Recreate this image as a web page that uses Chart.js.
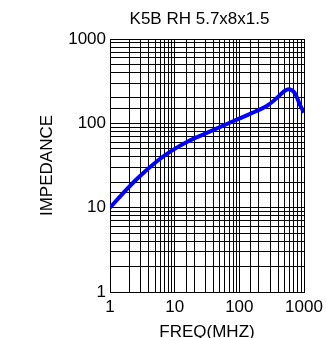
<!DOCTYPE html>
<html>
<head>
<meta charset="utf-8">
<script src="https://cdn.jsdelivr.net/npm/chart.js@4/dist/chart.umd.min.js"></script>
<style>
  html, body { margin: 0; padding: 0; background: #fff; }
  #c { display: block; }
</style>
</head>
<body>
<canvas id="c" width="326" height="338"></canvas>
<script>
const chartTitle = 'K5B RH 5.7x8x1.5';
const xAxisTitle = 'FREQ(MHZ)';
const yAxisTitle = 'IMPEDANCE';
const freqMHz = [1, 1.68, 2.7, 5.5, 8.9, 16, 29, 85, 174, 280, 400, 480, 571, 725, 867, 1000];
const impedance = [10, 15.5, 22.5, 36.3, 47.2, 61, 75, 108, 137, 165, 207, 236, 253, 227, 165, 134];
const tickLabels = [1, 10, 100, 1000];

const FONT = '"Liberation Sans", Arial, sans-serif';
const points = freqMHz.map((f, i) => ({ x: f, y: impedance[i] }));
const labelCb = (v) => tickLabels.includes(Number(v)) ? String(v) : '';

// shift the chart title box so it is centred where the reference has it
const titleShift = {
  id: 'titleShift',
  afterLayout(chart) {
    const t = chart.titleBlock;
    if (t) { t.left = 95; t.right = 304; }
  }
};

new Chart(document.getElementById('c'), {
  type: 'line',
  data: {
    datasets: [{
      data: points,
      borderColor: '#0000ff',
      borderWidth: 4,
      pointRadius: 0,
      fill: false,
      cubicInterpolationMode: 'monotone'
    }]
  },
  plugins: [titleShift],
  options: {
    responsive: false,
    animation: false,
    devicePixelRatio: 1,
    layout: { padding: { left: 0, right: 22, top: 0, bottom: 0 } },
    plugins: {
      legend: { display: false },
      tooltip: { enabled: false },
      title: {
        display: true,
        text: chartTitle,
        color: '#000',
        font: { family: FONT, size: 17, weight: 'normal' },
        padding: { top: 9.5, bottom: 9.1 }
      }
    },
    scales: {
      x: {
        type: 'logarithmic',
        min: 1, max: 1000,
        border: { display: true, color: '#000', width: 1 },
        grid: { color: '#000', lineWidth: 1, drawTicks: false },
        ticks: { autoSkip: false, maxRotation: 0, padding: 5.5, color: '#000',
                 font: { family: FONT, size: 17 }, callback: labelCb },
        title: { display: true, text: xAxisTitle, color: '#000',
                 font: { family: FONT, size: 17 }, padding: { top: 0, bottom: -4.2 } },
        afterFit: (s) => { s.height = 46; s.paddingLeft = 0; s.paddingRight = 0; }
      },
      y: {
        type: 'logarithmic',
        min: 1, max: 1000,
        border: { display: true, color: '#000', width: 1 },
        grid: { color: '#000', lineWidth: 1, drawTicks: false },
        ticks: { autoSkip: false, padding: 4, color: '#000',
                 font: { family: FONT, size: 17 }, callback: labelCb },
        title: { display: true, text: yAxisTitle, color: '#000',
                 font: { family: FONT, size: 17 }, padding: { top: 36.8, bottom: 0 } },
        afterFit: (s) => { s.width = 110; s.paddingTop = 0; s.paddingBottom = 0; }
      }
    }
  }
});
</script>
</body>
</html>
